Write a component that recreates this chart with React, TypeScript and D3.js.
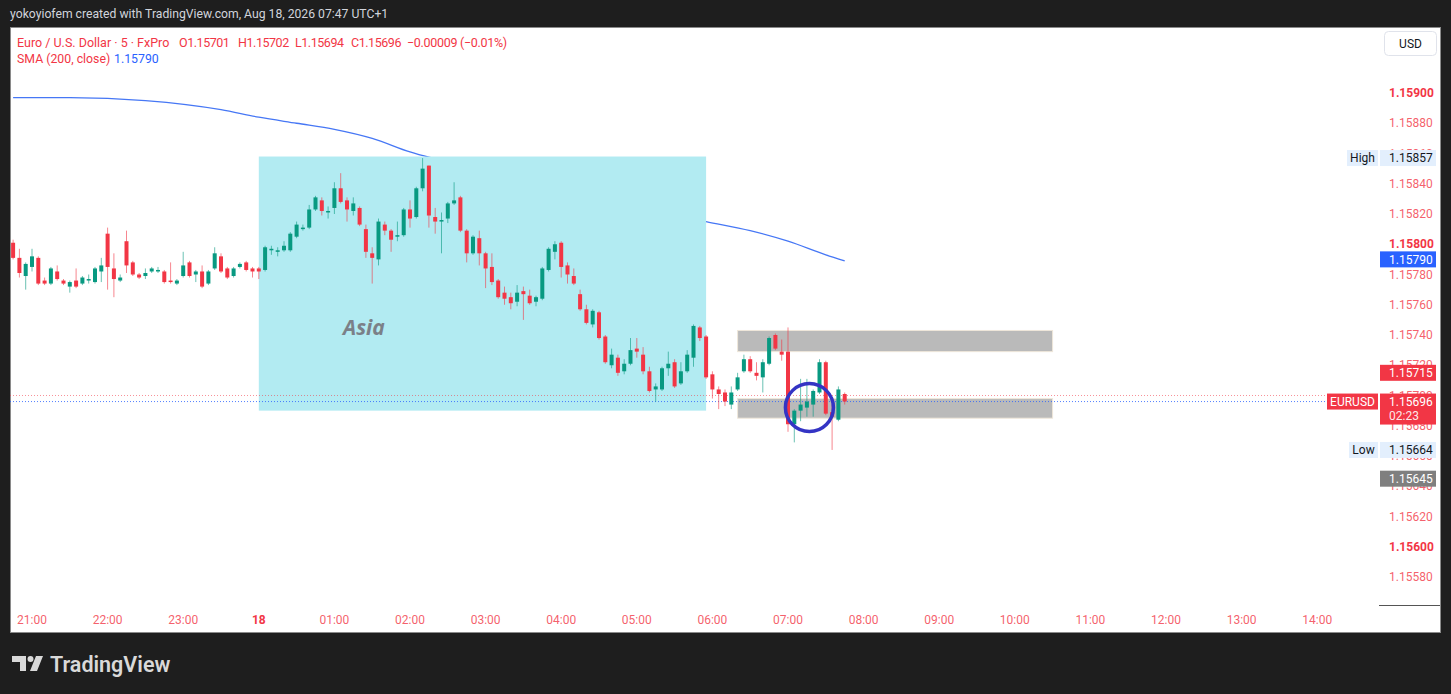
import React from 'react';
import * as d3 from 'd3';

// canvas
const W = 1451;
const H = 694;

const parseTime = d3.timeParse('%Y-%m-%d %H:%M');
const firstBar = '2026-08-17 20:45';
const lastTick = '2026-08-18 14:00';
const barMinutes = 5;

// EURUSD 5m bars: [open, high, low, close]
const ohlc: [number, number, number, number][] = [
  [1.15801, 1.15803, 1.1579, 1.15791], [1.15791, 1.15797, 1.15778, 1.15781], [1.15779, 1.15788, 1.1577, 1.15787],
  [1.15785, 1.15797, 1.15782, 1.15792], [1.15791, 1.15792, 1.15773, 1.15774], [1.15776, 1.15778, 1.15773, 1.15774],
  [1.15774, 1.15785, 1.15773, 1.15784], [1.15782, 1.15786, 1.15776, 1.15777], [1.15776, 1.15777, 1.15773, 1.15774],
  [1.15772, 1.15776, 1.15768, 1.15775], [1.15776, 1.15784, 1.15771, 1.15772], [1.15774, 1.15779, 1.15773, 1.15778],
  [1.15776, 1.1578, 1.15774, 1.15777], [1.15775, 1.15785, 1.15774, 1.15784], [1.15782, 1.15791, 1.15775, 1.15786],
  [1.15807, 1.15811, 1.1577, 1.15785], [1.15784, 1.15794, 1.15765, 1.15777], [1.15776, 1.1578, 1.15775, 1.15778],
  [1.15802, 1.15809, 1.15781, 1.15786], [1.15788, 1.15789, 1.15779, 1.1578], [1.1578, 1.15781, 1.15777, 1.15778],
  [1.15779, 1.15784, 1.15777, 1.15781], [1.15782, 1.15785, 1.15781, 1.15784], [1.15782, 1.15785, 1.15781, 1.15783],
  [1.15782, 1.15783, 1.15774, 1.15775], [1.15776, 1.15788, 1.15774, 1.15775], [1.15774, 1.15777, 1.15773, 1.15776],
  [1.15779, 1.15795, 1.15778, 1.15786], [1.15788, 1.15789, 1.15778, 1.15779], [1.1578, 1.15783, 1.15775, 1.15782],
  [1.15782, 1.15786, 1.15771, 1.15772], [1.15774, 1.15783, 1.15773, 1.15782], [1.15784, 1.15798, 1.15783, 1.15794],
  [1.15792, 1.15794, 1.15781, 1.15782], [1.15784, 1.15785, 1.15777, 1.15778], [1.15779, 1.15785, 1.15778, 1.15784],
  [1.15785, 1.15788, 1.15784, 1.15787], [1.15788, 1.15789, 1.15782, 1.15783], [1.15784, 1.15785, 1.15778, 1.15782],
  [1.15784, 1.15785, 1.15777, 1.15782], [1.15783, 1.15799, 1.15782, 1.15798], [1.15796, 1.15799, 1.15793, 1.15797],
  [1.15795, 1.15798, 1.15792, 1.15796], [1.15796, 1.15802, 1.15795, 1.15799], [1.15796, 1.15808, 1.15795, 1.15807],
  [1.15805, 1.15815, 1.15804, 1.15813], [1.1581, 1.15813, 1.15809, 1.15811], [1.15811, 1.15826, 1.1581, 1.15823],
  [1.15823, 1.15832, 1.15822, 1.15831], [1.15829, 1.15831, 1.15819, 1.15822], [1.15821, 1.15825, 1.15817, 1.15822],
  [1.15824, 1.15841, 1.1582, 1.15837], [1.15837, 1.15847, 1.15827, 1.15828], [1.15829, 1.15831, 1.15815, 1.15823],
  [1.15822, 1.15831, 1.15819, 1.15827], [1.15824, 1.15825, 1.15812, 1.15813], [1.1581, 1.15813, 1.15791, 1.15795],
  [1.15794, 1.15798, 1.15774, 1.15791], [1.1579, 1.15817, 1.15786, 1.15815], [1.15813, 1.15815, 1.15806, 1.15809],
  [1.15809, 1.1581, 1.15795, 1.15803], [1.15805, 1.15815, 1.15802, 1.15806], [1.15806, 1.15824, 1.15805, 1.15823],
  [1.15823, 1.15829, 1.15811, 1.15817], [1.15818, 1.15838, 1.15817, 1.15837], [1.15837, 1.15857, 1.15835, 1.1585],
  [1.15852, 1.15852, 1.15811, 1.15819], [1.15818, 1.15824, 1.15807, 1.15815], [1.15815, 1.15821, 1.15794, 1.15816],
  [1.15817, 1.15828, 1.15814, 1.15827], [1.15827, 1.15841, 1.15826, 1.15829], [1.15831, 1.15832, 1.15808, 1.15809],
  [1.15809, 1.1581, 1.15788, 1.15794], [1.15794, 1.15806, 1.15793, 1.15805], [1.15804, 1.15809, 1.15786, 1.15794],
  [1.15794, 1.15795, 1.15771, 1.15784], [1.15785, 1.15794, 1.15773, 1.15775], [1.15776, 1.15777, 1.15764, 1.15765],
  [1.15768, 1.15772, 1.1576, 1.15764], [1.15765, 1.15768, 1.15757, 1.15761], [1.15762, 1.15773, 1.15759, 1.15768],
  [1.15769, 1.15772, 1.1575, 1.15767], [1.15766, 1.1577, 1.1576, 1.15761], [1.15762, 1.15766, 1.15759, 1.15765],
  [1.15764, 1.15785, 1.15763, 1.15784], [1.15783, 1.15798, 1.15782, 1.15797], [1.15795, 1.15802, 1.1579, 1.158],
  [1.15801, 1.15802, 1.15778, 1.15785], [1.15786, 1.15788, 1.15774, 1.1578], [1.15779, 1.15784, 1.15773, 1.15774],
  [1.15767, 1.1577, 1.15756, 1.15757], [1.15757, 1.1576, 1.15747, 1.15748], [1.15747, 1.15757, 1.15745, 1.15756],
  [1.15755, 1.15756, 1.15737, 1.15738], [1.15739, 1.1574, 1.15721, 1.15722], [1.1572, 1.15731, 1.15718, 1.15727],
  [1.15725, 1.15727, 1.15713, 1.15715], [1.15716, 1.15724, 1.15714, 1.15721], [1.15721, 1.15738, 1.1572, 1.1573],
  [1.15731, 1.15738, 1.15725, 1.15729], [1.15727, 1.15732, 1.15714, 1.15716], [1.15716, 1.15719, 1.15702, 1.15703],
  [1.15704, 1.15708, 1.15696, 1.15706], [1.15704, 1.15719, 1.15703, 1.15718], [1.15718, 1.15729, 1.15713, 1.15721],
  [1.15722, 1.15724, 1.15705, 1.15706], [1.15708, 1.15722, 1.15707, 1.15716], [1.15716, 1.1573, 1.15715, 1.15727],
  [1.15725, 1.15747, 1.15719, 1.15746], [1.15745, 1.15746, 1.15736, 1.15738], [1.15739, 1.1574, 1.15711, 1.15712],
  [1.15714, 1.15716, 1.15698, 1.15704], [1.15704, 1.15706, 1.15691, 1.15701], [1.15702, 1.15704, 1.15693, 1.15696],
  [1.15694, 1.15706, 1.15691, 1.15702], [1.15704, 1.15715, 1.15703, 1.15712], [1.15716, 1.15727, 1.15715, 1.15724],
  [1.15724, 1.15726, 1.15715, 1.15716], [1.15715, 1.15722, 1.1571, 1.15713], [1.15712, 1.15724, 1.15702, 1.15722],
  [1.15721, 1.15739, 1.1572, 1.15738], [1.1574, 1.15741, 1.1573, 1.15731], [1.15729, 1.15737, 1.15723, 1.15727],
  [1.15729, 1.15745, 1.15676, 1.15681], [1.15681, 1.15691, 1.15669, 1.1569], [1.1569, 1.15711, 1.15683, 1.15694],
  [1.15692, 1.15711, 1.15686, 1.15696], [1.15694, 1.15704, 1.15686, 1.15703], [1.15702, 1.15724, 1.15701, 1.15722],
  [1.15722, 1.15723, 1.15687, 1.15688], [1.15689, 1.15694, 1.15664, 1.15686], [1.15684, 1.15706, 1.15683, 1.15704],
  [1.15701, 1.15702, 1.15694, 1.15696],
];

// SMA(200, close) read at a few times
const smaTimes = [
  '2026-08-17 20:45', '2026-08-17 21:30', '2026-08-17 22:30', '2026-08-17 23:30', '2026-08-18 00:00',
  '2026-08-18 00:30', '2026-08-18 01:00', '2026-08-18 01:30', '2026-08-18 02:00', '2026-08-18 03:00',
  '2026-08-18 04:00', '2026-08-18 05:00', '2026-08-18 05:55', '2026-08-18 06:30', '2026-08-18 07:00',
  '2026-08-18 07:30', '2026-08-18 07:45',
];
const smaValues = [
  1.15897, 1.15897, 1.15895, 1.15889, 1.15884, 1.1588, 1.15876, 1.1587, 1.15861, 1.15849,
  1.15836, 1.15825, 1.15815, 1.15809, 1.15802, 1.15793, 1.15789,
];

const priceTicks = [
  1.1558, 1.156, 1.1562, 1.1564, 1.1566, 1.1568, 1.157, 1.1572, 1.1574, 1.1576, 1.1578,
  1.158, 1.1582, 1.1584, 1.1586, 1.1588, 1.159,
];
const boldPrices = [1.156, 1.158, 1.159];
const timeLabels = ['21:00', '22:00', '23:00', '18', '01:00', '02:00', '03:00', '04:00', '05:00',
  '06:00', '07:00', '08:00', '09:00', '10:00', '11:00', '12:00', '13:00', '14:00'];

// drawings
const asiaSession = { from: '2026-08-18 00:00', to: '2026-08-18 05:55', top: 1.15858, bottom: 1.1569 };
const zones = [
  { from: '2026-08-18 06:20', to: '2026-08-18 10:30', top: 1.15743, bottom: 1.15729 },
  { from: '2026-08-18 06:20', to: '2026-08-18 10:30', top: 1.15698, bottom: 1.15685 },
];
const ring = { at: '2026-08-18 07:17', price: 1.15692 };

const priceMarks = [
  { value: 1.15857, text: '1.15857', tag: 'High', bg: '#e3effd', fg: '#131722' },
  { value: 1.1579, text: '1.15790', tag: '', bg: '#2962ff', fg: '#ffffff' },
  { value: 1.15715, text: '1.15715', tag: '', bg: '#f23645', fg: '#ffffff' },
  { value: 1.15696, text: '1.15696', tag: 'EURUSD', sub: '02:23', bg: '#f23645', fg: '#ffffff' },
  { value: 1.15664, text: '1.15664', tag: 'Low', bg: '#e3effd', fg: '#131722' },
  { value: 1.15645, text: '1.15645', tag: '', bg: '#7f7f7f', fg: '#ffffff' },
];

const UP = '#089981';
const DOWN = '#f23645';
const FONT = 'Roboto, "Noto Sans", sans-serif';

export default function App() {
  const x = d3.scaleTime()
    .domain([parseTime(firstBar)!, parseTime(lastTick)!])
    .range([13.1, 1317.2]);
  const y = d3.scaleLinear().domain([1.1558, 1.159]).range([577, 93]);

  const t0 = parseTime(firstBar)!;
  const barTime = (i: number) => d3.timeMinute.offset(t0, i * barMinutes);
  const tickTimes = d3.timeHour.range(parseTime('2026-08-17 21:00')!, d3.timeMinute.offset(parseTime(lastTick)!, 1));

  const sma = d3.line<number>()
    .x((_, i) => x(parseTime(smaTimes[i])!))
    .y((d) => y(d))
    .curve(d3.curveMonotoneX)(smaValues);

  const bodyW = 4;
  const priceBoxX = 1380;
  const priceBoxW = 56;
  const numSpacing = -0.45;

  return (
    <div style={{ position: 'fixed', left: 0, top: 0 }}>
      <svg width={W} height={H} style={{ display: 'block', fontFamily: FONT }}>
        <defs>
          <clipPath id="plot">
            <rect x={10} y={28} width={1370} height={577} />
          </clipPath>
        </defs>
        <rect width={W} height={H} fill="#1e1e1e" />
        <text x={10} y={18} fill="#d1d4dc" fontSize={12.2}>
          yokoyiofem created with TradingView.com, Aug 18, 2026 07:47 UTC+1
        </text>
        <rect x={10.5} y={27.5} width={1430} height={605} fill="#ffffff" stroke="#8a8a8a" />

        {/* legend */}
        <text y={47} fontSize={12.5} fill={DOWN}>
          <tspan x={17}>Euro / U.S. Dollar · 5 · FxPro</tspan>
          <tspan x={179} letterSpacing={numSpacing}>O1.15701</tspan>
          <tspan x={238} letterSpacing={numSpacing}>H1.15702</tspan>
          <tspan x={295} letterSpacing={numSpacing}>L1.15694</tspan>
          <tspan x={351} letterSpacing={numSpacing}>C1.15696</tspan>
          <tspan x={407} letterSpacing={-0.3}>−0.00009 (−0.01%)</tspan>
        </text>
        <text y={63} fontSize={12.3}>
          <tspan x={17} fill={DOWN}>SMA (200, close)</tspan>
          <tspan x={114} fill="#2962ff">1.15790</tspan>
        </text>

        <g clipPath="url(#plot)">
          <path d={sma ?? ''} fill="none" stroke="#4677f5" strokeWidth={1.3} />
          <rect
            x={x(parseTime(asiaSession.from)!)}
            y={y(asiaSession.top)}
            width={x(parseTime(asiaSession.to)!) - x(parseTime(asiaSession.from)!)}
            height={y(asiaSession.bottom) - y(asiaSession.top)}
            fill="#b2ebf2"
          />
          <text x={343} y={335} fontSize={21} fontWeight={700} fontStyle="italic" fill="#7b8088"
            fontFamily='"Open Sans", Roboto, sans-serif'>Asia</text>
          {zones.map((z, i) => (
            <rect
              key={i}
              x={x(parseTime(z.from)!)}
              y={y(z.top)}
              width={x(parseTime(z.to)!) - x(parseTime(z.from)!)}
              height={y(z.bottom) - y(z.top)}
              fill="#bababa"
              stroke="#efe7da"
              strokeWidth={1}
            />
          ))}
          <line x1={10} x2={1327} y1={y(1.157)} y2={y(1.157)} stroke={DOWN} strokeOpacity={0.55} strokeDasharray="1,2" />
          <line x1={10} x2={1327} y1={y(1.15696)} y2={y(1.15696)} stroke="#2962ff" strokeOpacity={0.8} strokeDasharray="1,2" />
          {ohlc.map(([o, h, l, c], i) => {
            const cx = x(barTime(i));
            const col = c >= o ? UP : DOWN;
            const top = y(Math.max(o, c));
            const bh = Math.max(1, y(Math.min(o, c)) - top);
            return (
              <g key={i}>
                <line x1={cx} x2={cx} y1={y(h)} y2={y(l)} stroke={col} strokeOpacity={0.6} strokeWidth={1} />
                <rect x={cx - bodyW / 2} y={top} width={bodyW} height={bh} fill={col} />
              </g>
            );
          })}
          <circle
            cx={x(parseTime(ring.at)!)}
            cy={y(ring.price)}
            r={24}
            fill="none"
            stroke="#3434c4"
            strokeWidth={3.5}
          />
        </g>

        {/* price axis */}
        <rect x={1384.5} y={31.5} width={52} height={24} rx={4} fill="#ffffff" stroke="#e0e3eb" />
        <text x={1410.5} y={47.5} textAnchor="middle" fontSize={12} fill="#131722">USD</text>
        {priceTicks.map((p) => {
          const bold = boldPrices.some((b) => Math.abs(b - p) < 1e-7);
          return (
            <text
              key={p}
              x={1389}
              y={y(p)}
              dy="0.35em"
              fontSize={12}
              fontWeight={bold ? 700 : 400}
              fill={DOWN}
              fillOpacity={bold ? 1 : 0.8}
            >
              {p.toFixed(5)}
            </text>
          );
        })}
        {priceMarks.map((m) => {
          const cy = y(m.value);
          const hBox = m.sub ? 31 : 16;
          const tagW = m.tag === 'EURUSD' ? 51 : m.tag === 'High' ? 31 : 29;
          return (
            <g key={m.text}>
              {m.tag && (
                <g>
                  <rect x={1378 - tagW} y={cy - 8} width={tagW} height={16} fill={m.bg} />
                  <text x={1378 - tagW / 2} y={cy} dy="0.35em" textAnchor="middle" fontSize={12} fill={m.fg}>
                    {m.tag}
                  </text>
                </g>
              )}
              <rect x={priceBoxX} y={cy - 8} width={priceBoxW} height={hBox} fill={m.bg} />
              <text x={1389} y={cy} dy="0.35em" fontSize={12} fill={m.fg}>{m.text}</text>
              {m.sub && (
                <text x={1389} y={cy + 14.5} dy="0.35em" fontSize={12} fill={m.fg} fillOpacity={0.9}>{m.sub}</text>
              )}
            </g>
          );
        })}
        <line x1={1379} x2={1440} y1={605.5} y2={605.5} stroke="#555" />

        {/* time axis */}
        {tickTimes.map((t, i) => (
          <text
            key={i}
            x={x(t)}
            y={624}
            textAnchor="middle"
            fontSize={12}
            fontWeight={timeLabels[i] === '18' ? 700 : 400}
            fill={DOWN}
            fillOpacity={timeLabels[i] === '18' ? 1 : 0.8}
          >
            {timeLabels[i]}
          </text>
        ))}

        {/* footer logo */}
        <g fill="#d9d9d9">
          <path d="M12 656 H26 V671 H20 V662 H12 Z" />
          <circle cx={30.5} cy={659} r={3} />
          <path d="M36 656 H43 L37 671 H30 Z" />
          <text x={50} y={672} fontSize={21.5} fontWeight={600}>TradingView</text>
        </g>
      </svg>
    </div>
  );
}
